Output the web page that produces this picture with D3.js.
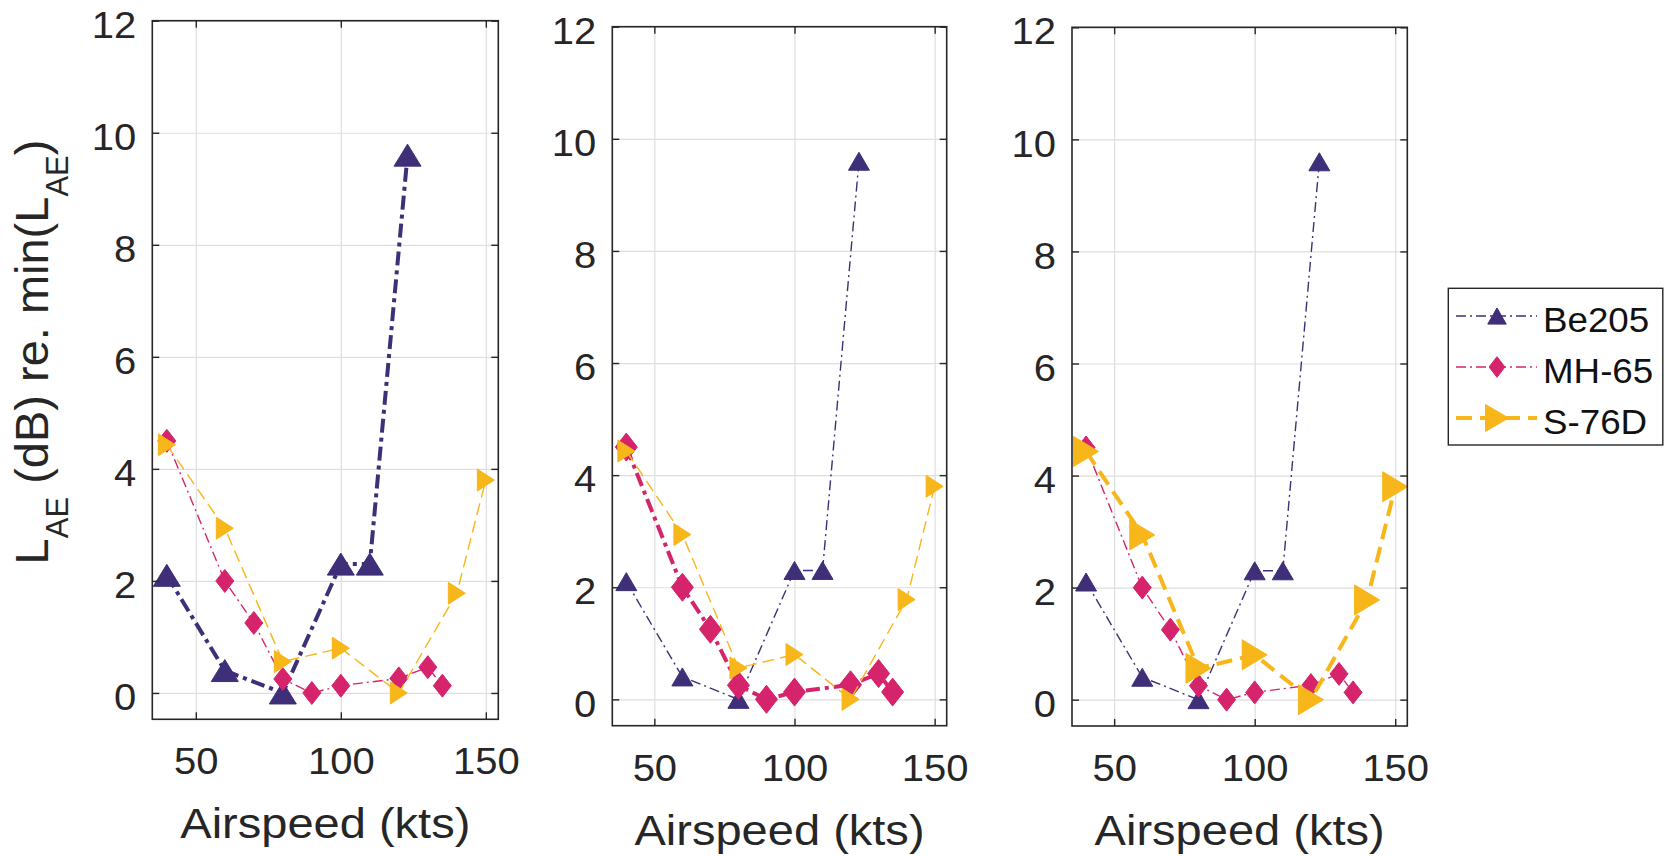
<!DOCTYPE html>
<html><head><meta charset="utf-8">
<script src="https://cdn.jsdelivr.net/npm/d3@7"></script>
<style>
html,body{margin:0;padding:0;background:#fff;}
svg{display:block;font-family:"Liberation Sans",Arial,Helvetica,sans-serif;}
</style></head><body>
<svg id="chart" width="1664" height="856"></svg>
<script>
// ---- data ----
const seriesNames = ["Be205", "MH-65", "S-76D"];
const be205Speed = [40, 60, 80, 100, 110, 123];
const be205Level = [2.1, 0.4, 0.0, 2.3, 2.3, 9.6];
const mh65Speed = [40, 60, 70, 80, 90, 100, 120, 130, 135];
const mh65Level = [4.5, 2.0, 1.25, 0.25, 0.0, 0.13, 0.26, 0.46, 0.13];
const s76dSpeed = [40, 60, 80, 100, 120, 140, 150];
const s76dLevel = [4.43, 2.94, 0.56, 0.8, 0.0, 1.78, 3.8];
const xTicks = [50, 100, 150];
const yTicks = [0, 2, 4, 6, 8, 10, 12];
const xLabel = "Airspeed (kts)";

const series = [
  {name: seriesNames[0], xs: be205Speed, ys: be205Level, color: "#3f2f78", style: "dashdot", marker: "up"},
  {name: seriesNames[1], xs: mh65Speed, ys: mh65Level, color: "#d5246c", style: "dashdot", marker: "diamond"},
  {name: seriesNames[2], xs: s76dSpeed, ys: s76dLevel, color: "#f7b619", style: "dashed", marker: "right"}
];

const panels = [
  {x0: 152.3, x1: 498.3, y0: 20.7, y1: 719.3, bold: 0},
  {x0: 612.3, x1: 946.7, y0: 26.7, y1: 725.7, bold: 1},
  {x0: 1072, x1: 1407.3, y0: 27.3, y1: 726, bold: 2}
];

const axisColor = "#262626";
const svg = d3.select("#chart");

function markerPath(type, w, h) {
  const a = w / 2, b = h / 2;
  if (type === "up") return `M0,${-b}L${a},${b}L${-a},${b}Z`;
  if (type === "right") return `M${a},0L${-a},${b}L${-a},${-b}Z`;
  return `M0,${-b}L${a},0L0,${b}L${-a},0Z`;
}
const markerSize = {
  up: {thin: [21, 18], bold: [27, 22]},
  diamond: {thin: [18, 23], bold: [22, 28]},
  right: {thin: [17, 22], bold: [25, 30]}
};
function dashFor(style, bold) {
  if (style === "dashdot") return bold ? "14,5,4,5" : "10,4,2,4";
  return bold ? "16,8" : "12,6";
}

const TX = 1.08; // horizontal text stretch
panels.forEach((p) => {
  const x = d3.scaleLinear().domain([35, 154.3]).range([p.x0, p.x1]);
  const y = d3.scaleLinear().domain([-0.47, 12]).range([p.y1, p.y0]);
  const g = svg.append("g");
  const w = p.x1 - p.x0, h = p.y1 - p.y0;

  // grid
  g.append("g").attr("transform", `translate(0,${p.y1})`)
    .call(d3.axisBottom(x).tickValues(xTicks).tickSize(-h).tickFormat(""))
    .call(s => { s.select(".domain").remove(); s.selectAll("line").attr("stroke", "#dedede").attr("stroke-width", 1.2); });
  g.append("g").attr("transform", `translate(${p.x0},0)`)
    .call(d3.axisLeft(y).tickValues(yTicks).tickSize(-w).tickFormat(""))
    .call(s => { s.select(".domain").remove(); s.selectAll("line").attr("stroke", "#dedede").attr("stroke-width", 1.2); });

  // series
  series.forEach((s, si) => {
    const bold = si === p.bold;
    const pts = s.xs.map((v, i) => [v, s.ys[i]]);
    const line = d3.line().x(d => x(d[0])).y(d => y(d[1]));
    g.append("path").datum(pts).attr("d", line)
      .attr("fill", "none").attr("stroke", s.color)
      .attr("stroke-width", bold ? 4 : 1.4)
      .attr("stroke-dasharray", dashFor(s.style, bold));
    const sz = markerSize[s.marker][bold ? "bold" : "thin"];
    g.selectAll(null).data(pts).enter().append("path")
      .attr("transform", d => `translate(${x(d[0])},${y(d[1])})`)
      .attr("d", markerPath(s.marker, sz[0], sz[1]))
      .attr("fill", s.color).attr("stroke", s.color).attr("stroke-width", 1);
  });

  // axes ticks (inward) & box
  const tk = 7;
  const ax = g.append("g").attr("transform", `translate(0,${p.y1})`)
    .call(d3.axisBottom(x).tickValues(xTicks).tickSize(-tk).tickPadding(0));
  ax.selectAll("text").attr("y", 55).attr("dy", 0).attr("x", 0)
    .attr("transform", `scale(${TX},1)`).attr("font-size", 37).attr("fill", axisColor)
    .attr("font-family", "Liberation Sans, Arial, sans-serif");
  const ay = g.append("g").attr("transform", `translate(${p.x0},0)`)
    .call(d3.axisLeft(y).tickValues(yTicks).tickSize(-tk).tickPadding(16));
  ay.selectAll("text").attr("x", -16 / TX).attr("dy", "0.45em")
    .attr("transform", `scale(${TX},1)`).attr("font-size", 37).attr("fill", axisColor)
    .attr("font-family", "Liberation Sans, Arial, sans-serif");
  g.append("g").attr("transform", `translate(0,${p.y0})`)
    .call(d3.axisTop(x).tickValues(xTicks).tickSize(-tk).tickFormat(""));
  g.append("g").attr("transform", `translate(${p.x1},0)`)
    .call(d3.axisRight(y).tickValues(yTicks).tickSize(-tk).tickFormat(""));
  g.selectAll(".domain").remove();
  g.selectAll(".tick line").filter(function(){ return +d3.select(this).attr("stroke-width") !== 1.2; })
    .attr("stroke", axisColor).attr("stroke-width", 1.4);
  g.append("rect").attr("x", p.x0).attr("y", p.y0).attr("width", w).attr("height", h)
    .attr("fill", "none").attr("stroke", axisColor).attr("stroke-width", 1.6);

  // x label
  const cx = (p.x0 + p.x1) / 2;
  g.append("text").attr("transform", `translate(${cx},${p.y1 + 119}) scale(1.12,1)`)
    .attr("text-anchor", "middle").attr("font-size", 42).attr("fill", axisColor)
    .text(xLabel);
});

// y label
const yl = svg.append("text").attr("transform", "translate(48,352) rotate(-90)")
  .attr("text-anchor", "middle").attr("font-size", 47).attr("fill", axisColor);
yl.append("tspan").text("L");
yl.append("tspan").attr("font-size", 31).attr("dy", 20).text("AE");
yl.append("tspan").attr("dy", -20).text(" (dB) re. min(L");
yl.append("tspan").attr("font-size", 31).attr("dy", 20).text("AE");
yl.append("tspan").attr("dy", -20).text(")");

// legend
const lg = svg.append("g");
lg.append("rect").attr("x", 1448.3).attr("y", 288.3).attr("width", 214.5).attr("height", 156.7)
  .attr("fill", "#fff").attr("stroke", axisColor).attr("stroke-width", 1.4);
const legBold = 2;
series.forEach((s, i) => {
  const ly = 316 + i * 51;
  const bold = i === legBold;
  lg.append("line").attr("x1", 1456).attr("x2", 1537).attr("y1", ly).attr("y2", ly)
    .attr("stroke", s.color).attr("stroke-width", bold ? 4 : 1.4)
    .attr("stroke-dasharray", dashFor(s.style, bold));
  const sz = markerSize[s.marker][bold ? "bold" : "thin"];
  lg.append("path").attr("transform", `translate(1497,${ly})`)
    .attr("d", markerPath(s.marker, bold ? 23 : sz[0] * 0.88, bold ? 27 : sz[1] * 0.9))
    .attr("fill", s.color).attr("stroke", s.color);
  lg.append("text").attr("transform", `translate(1543,${ly + 16}) scale(1.05,1)`)
    .attr("font-size", 35).attr("fill", "#111").text(s.name);
});
</script>
</body></html>
